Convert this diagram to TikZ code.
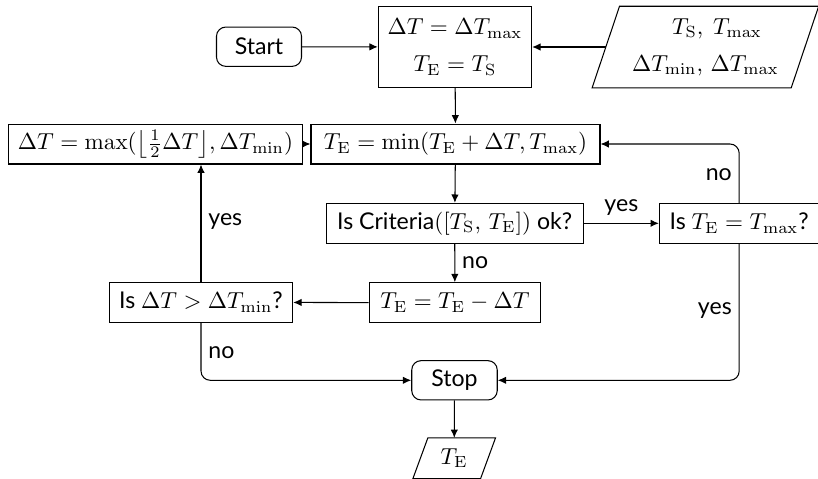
\documentclass[tikz,border=0pt]{standalone}
\usepackage[no-math]{fontspec}
\setmainfont{Lato}
\usetikzlibrary{arrows.meta,calc}
\newcommand{\sE}{_{\mathrm{E}}}
\newcommand{\sS}{_{\mathrm{S}}}
\begin{document}
\begin{tikzpicture}[x=0.4329pt,y=-0.4329pt,
  every node/.style={inner sep=2pt},
  box/.style={draw,line width=0.45pt,minimum height=17.3pt},
  term/.style={draw,line width=0.45pt,rounded corners=4pt,minimum height=17pt},
  io/.style={minimum height=34.9pt},
  lbl/.style={inner sep=3pt},
  arr/.style={line width=0.45pt,-{Latex[length=3.6pt,width=3.2pt]}},
  para/.style={line width=0.45pt}]
\useasboundingbox (0,0) rectangle (818,479);

\node[term,minimum width=36.8pt] (start) at (259,46.7) {Start};
\node[box,minimum width=66.4pt,minimum height=34.9pt,align=center] (init) at (455,47)
  {$\Delta T = \Delta T_{\max}$\\[4pt] $T\sE = T\sS$};
\node[io,minimum width=85.8pt,align=center] (input) at (705.4,47)
  {\hspace*{10pt}$T\sS,\ T_{\max}$\\[4pt] $\Delta T_{\min},\, \Delta T_{\max}$};
\draw[para] ($(input.north west)+(13.7,0)$) -- ($(input.north east)+(13.7,0)$)
  -- ($(input.south east)+(-13.7,0)$) -- ($(input.south west)+(-13.7,0)$) -- cycle;

\node[box,minimum width=125.1pt] (minb) at (455.5,144)
  {$T\sE = \min(T\sE + \Delta T, T_{\max})$};
\node[box,minimum width=127.4pt] (maxb) at (155.5,144)
  {$\Delta T = \max(\bigl\lfloor \frac{1}{2}\Delta T\bigr\rfloor, \Delta T_{\min})$};
\node[box,minimum width=111.4pt] (crit) at (454.7,223.3)
  {Is Criteria$([T\sS,\, T\sE])$ ok?};
\node[box,minimum width=69.1pt] (tmax) at (739.2,223.3)
  {Is $T\sE = T_{\max}$?};
\node[box,minimum width=74.3pt] (tedt) at (454.9,302.7)
  {$T\sE = T\sE - \Delta T$};
\node[box,minimum width=79.4pt] (isdt) at (201,302.3)
  {Is $\Delta T > \Delta T_{\min}$?};
\node[term,minimum width=37pt] (stop) at (454.5,380.3) {Stop};
\node[minimum width=28.9pt,minimum height=17.3pt] (out) at (454.2,458.3) {$T\sE$};
\draw[para] ($(out.north west)+(7.5,0)$) -- ($(out.north east)+(7.5,0)$)
  -- ($(out.south east)+(-7.5,0)$) -- ($(out.south west)+(-7.5,0)$) -- cycle;

\draw[arr] (start) -- (init);
\draw[arr] (input) -- (init);
\draw[arr] (init) -- (minb);
\draw[arr] (maxb) -- (minb);
\draw[arr] (minb) -- (crit);
\draw[arr] (crit) -- node[lbl,above,pos=0.5]{yes} (tmax);
\draw[arr] (crit) -- node[lbl,right,pos=0.5]{no} (tedt);
\draw[arr] (tedt) -- (isdt);
\draw[arr] (isdt.north) -- node[lbl,right,pos=0.51]{yes} (isdt.north |- maxb.south);
\draw[arr,rounded corners=4pt] (tmax.north) |- node[lbl,left,pos=0.24]{no} (minb.east);
\draw[arr,rounded corners=4pt] (tmax.south) |- node[lbl,left,pos=0.245]{yes} (stop.east);
\draw[arr,rounded corners=4pt] (isdt.south) |- node[lbl,right,pos=0.26]{no} (stop.west);
\draw[arr] (stop) -- (out);
\end{tikzpicture}
\end{document}
